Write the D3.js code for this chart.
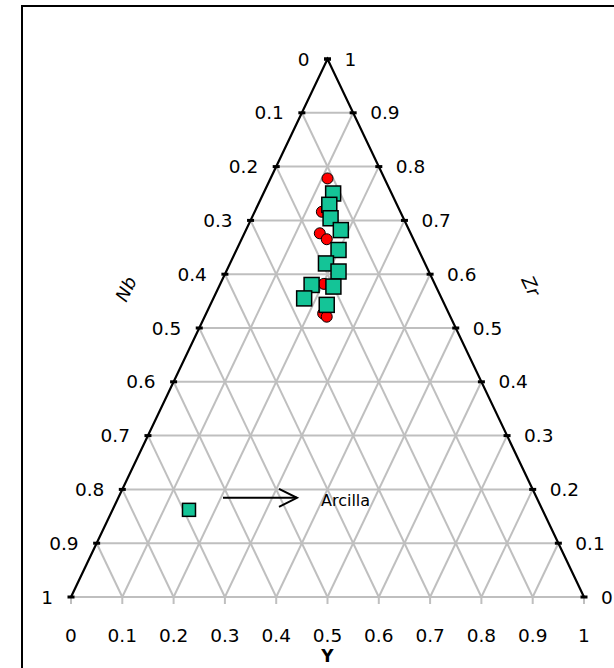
<!DOCTYPE html>
<html>
<head>
<meta charset="utf-8">
<script src="https://cdn.jsdelivr.net/npm/d3@7"></script>
<style>
  html, body { margin: 0; padding: 0; background: #fff; }
  svg { display: block; }
  text { font-family: "DejaVu Sans", sans-serif; fill: #000; }
</style>
</head>
<body>
<svg id="chart" width="614" height="668"></svg>
<script>
// ---------- data ----------
const tickValues = [0, 0.1, 0.2, 0.3, 0.4, 0.5, 0.6, 0.7, 0.8, 0.9, 1];
const tickLabels = ["0", "0.1", "0.2", "0.3", "0.4", "0.5", "0.6", "0.7", "0.8", "0.9", "1"];
const axisNames = { bottom: "Y", left: "Nb", right: "Zr" };

// red circles (Y, Nb, Zr)
const circleY  = [0.111, 0.131, 0.147, 0.166, 0.202, 0.228, 0.238];
const circleNb = [0.111, 0.153, 0.177, 0.169, 0.216, 0.245, 0.241];
const circleZr = [0.778, 0.716, 0.676, 0.665, 0.582, 0.527, 0.521];

// green squares (Y, Nb, Zr)
const squareY  = [0.136, 0.139, 0.154, 0.185, 0.199, 0.187, 0.219, 0.223, 0.179, 0.177, 0.227];
const squareNb = [0.114, 0.132, 0.142, 0.133, 0.156, 0.193, 0.176, 0.200, 0.241, 0.268, 0.230];
const squareZr = [0.750, 0.729, 0.704, 0.682, 0.645, 0.620, 0.605, 0.577, 0.580, 0.555, 0.543];

// Arcilla sample (Y, Nb, Zr)
const arcillaY  = [0.149];
const arcillaNb = [0.689];
const arcillaZr = [0.162];
const arcillaLabel = "Arcilla";

// ---------- layout ----------
const svg = d3.select("#chart");
const triLeft = 71, triRight = 584, triTop = 59, triBottom = 597;
const xs = d3.scaleLinear().domain([0, 1]).range([triLeft, triRight]);
const ys = d3.scaleLinear().domain([0, 1]).range([triBottom, triTop]);
const gridColor = "#BFBFBF";

// project ternary (Y, Nb, Zr) -> pixel
function proj(y, nb, zr) {
  const s = y + nb + zr;
  const Y = y / s, Z = zr / s;
  return [xs(Y + Z / 2), ys(Z)];
}

// outer border
svg.append("rect").attr("x", 22).attr("y", 6).attr("width", 700).attr("height", 700)
  .attr("fill", "none").attr("stroke", "#000").attr("stroke-width", 2);

const line = d3.line();
const g = svg.append("g");

// gridlines
tickValues.slice(1, -1).forEach(t => {
  g.append("path").attr("d", line([proj(0, 1 - t, t), proj(1 - t, 0, t)]))
    .attr("stroke", gridColor).attr("stroke-width", 2).attr("fill", "none");
  g.append("path").attr("d", line([proj(t, 1 - t, 0), proj(t, 0, 1 - t)]))
    .attr("stroke", gridColor).attr("stroke-width", 2).attr("fill", "none");
  g.append("path").attr("d", line([proj(1 - t, t, 0), proj(0, t, 1 - t)]))
    .attr("stroke", gridColor).attr("stroke-width", 2).attr("fill", "none");
});

// bottom edge (gray) and ticks
g.append("path").attr("d", line([proj(0, 1, 0), proj(1, 0, 0)]))
  .attr("stroke", gridColor).attr("stroke-width", 2).attr("fill", "none");
tickValues.forEach(t => {
  const p = proj(t, 1 - t, 0);
  g.append("line").attr("x1", p[0]).attr("x2", p[0]).attr("y1", p[1]).attr("y2", p[1] + 7)
    .attr("stroke", gridColor).attr("stroke-width", 2);
});

// left and right edges (black)
g.append("path").attr("d", line([proj(0, 1, 0), proj(0, 0, 1), proj(1, 0, 0)]))
  .attr("stroke", "#000").attr("stroke-width", 2.2).attr("fill", "none")
  .attr("stroke-linejoin", "miter");

// small black dash markers along edges
tickValues.forEach(t => {
  [proj(0, t, 1 - t), proj(1 - t, 0, t)].forEach(p => {
    g.append("rect").attr("x", p[0] - 3.5).attr("y", p[1] - 1.5).attr("width", 7).attr("height", 3)
      .attr("fill", "#000");
  });
});

// tick labels
const fs = 18.5;
tickValues.forEach((t, i) => {
  // left (Nb): 0 at apex, 1 at bottom-left
  const pl = proj(0, t, 1 - t);
  svg.append("text").attr("x", pl[0] - 18).attr("y", pl[1]).attr("dy", "0.36em")
    .attr("text-anchor", "end").attr("font-size", fs).text(tickLabels[i]);
  // right (Zr): 0 at bottom-right, 1 at apex
  const pr = proj(1 - t, 0, t);
  svg.append("text").attr("x", pr[0] + 17).attr("y", pr[1]).attr("dy", "0.36em")
    .attr("text-anchor", "start").attr("font-size", fs).text(tickLabels[i]);
  // bottom (Y)
  const pb = proj(t, 1 - t, 0);
  svg.append("text").attr("x", pb[0]).attr("y", 642)
    .attr("text-anchor", "middle").attr("font-size", fs).text(tickLabels[i]);
});

// axis titles
const ang = Math.atan2(triBottom - triTop, (triRight - triLeft) / 2) * 180 / Math.PI;
svg.append("text").attr("x", xs(0.5)).attr("y", 662).attr("text-anchor", "middle")
  .attr("font-size", 17).attr("font-weight", "bold").text(axisNames.bottom);
svg.append("text").attr("transform", `translate(126,289) rotate(${-ang})`)
  .attr("text-anchor", "middle").attr("dy", "0.35em").attr("font-size", 18)
  .attr("font-style", "italic").text(axisNames.left);
svg.append("text").attr("transform", `translate(531,286) rotate(${ang})`)
  .attr("text-anchor", "middle").attr("dy", "0.35em").attr("font-size", 18)
  .attr("font-style", "italic").text(axisNames.right);

// red circles
const circles = circleY.map((y, i) => proj(y, circleNb[i], circleZr[i]));
svg.append("g").selectAll("circle").data(circles).join("circle")
  .attr("cx", d => d[0]).attr("cy", d => d[1]).attr("r", 5.5)
  .attr("fill", "#FF0000").attr("stroke", "#000").attr("stroke-width", 1);

// green squares
const sq = 15;
const squares = squareY.map((y, i) => proj(y, squareNb[i], squareZr[i]));
svg.append("g").selectAll("rect").data(squares).join("rect")
  .attr("x", d => d[0] - sq / 2).attr("y", d => d[1] - sq / 2).attr("width", sq).attr("height", sq)
  .attr("fill", "#14C497").attr("stroke", "#000").attr("stroke-width", 1.5);

// Arcilla
const arc = arcillaY.map((y, i) => proj(y, arcillaNb[i], arcillaZr[i]));
const asq = 13;
svg.append("g").selectAll("rect").data(arc).join("rect")
  .attr("x", d => d[0] - asq / 2).attr("y", d => d[1] - asq / 2).attr("width", asq).attr("height", asq)
  .attr("fill", "#14C497").attr("stroke", "#000").attr("stroke-width", 1.5);

// arrow annotation
const ay = arc[0][1] - 12;
const ax0 = arc[0][0] + 34, ax1 = arc[0][0] + 108;
svg.append("line").attr("x1", ax0).attr("x2", ax1).attr("y1", ay).attr("y2", ay)
  .attr("stroke", "#000").attr("stroke-width", 2);
svg.append("path").attr("d", line([[ax1 - 18, ay - 9], [ax1, ay], [ax1 - 18, ay + 9]]))
  .attr("stroke", "#000").attr("stroke-width", 2).attr("fill", "none");
svg.append("text").attr("x", ax1 + 24).attr("y", ay + 3).attr("dy", "0.35em")
  .attr("font-size", 16).text(arcillaLabel);
</script>
</body>
</html>
